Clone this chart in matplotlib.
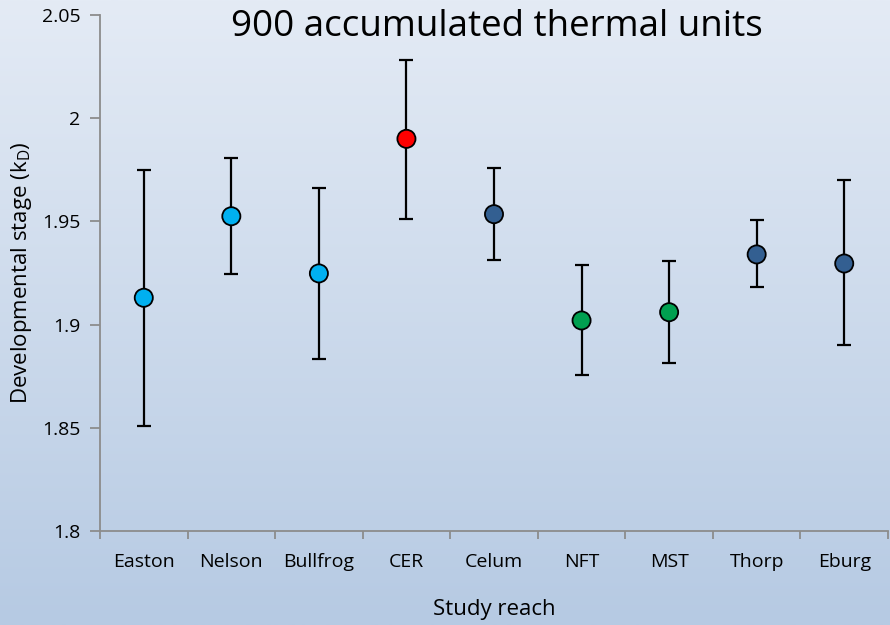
import numpy as np
import matplotlib.pyplot as plt

# study reaches and developmental stage (kD) at 900 accumulated thermal units
reaches = ["Easton", "Nelson", "Bullfrog", "CER", "Celum", "NFT", "MST", "Thorp", "Eburg"]
means = [1.913, 1.9525, 1.9248, 1.990, 1.9535, 1.902, 1.906, 1.934, 1.9296]
upper = [1.975, 1.9808, 1.966, 2.028, 1.9757, 1.9288, 1.9309, 1.9505, 1.970]
lower = [1.8507, 1.9244, 1.8831, 1.9511, 1.9312, 1.8756, 1.8816, 1.9181, 1.8902]
colors = ["#00b0f0", "#00b0f0", "#00b0f0", "#ff0000", "#335f91",
          "#00a050", "#00a050", "#335f91", "#335f91"]

plt.rcParams['font.family'] = ['Open Sans', 'DejaVu Sans']
plt.rcParams['mathtext.fontset'] = 'custom'
plt.rcParams['mathtext.rm'] = 'Open Sans'

fig = plt.figure(figsize=(8.9, 6.25), dpi=100)

# gradient background over the whole figure
bg = fig.add_axes([0, 0, 1, 1], zorder=-1)
top = np.array([0xe4, 0xeb, 0xf5]) / 255
bot = np.array([0xb6, 0xca, 0xe3]) / 255
t = np.linspace(0, 1, 256)[:, None]
grad = (top * (1 - t) + bot * t)[:, None, :]
bg.imshow(grad, aspect='auto', extent=[0, 1, 0, 1])
bg.axis('off')

ax = fig.add_axes([100 / 890, 94 / 625, 788 / 890, 516 / 625])
ax.set_facecolor('none')

x = np.arange(len(reaches))
m = np.array(means)
yerr = [m - np.array(lower), np.array(upper) - m]
ax.errorbar(x, m, yerr=yerr, fmt='none', ecolor='black', elinewidth=1.6,
            capsize=5, capthick=1.6, zorder=2)
ax.scatter(x, m, s=170, c=colors, edgecolors='black', linewidths=1.3, zorder=3)

ax.set_xlim(-0.5, len(reaches) - 0.5)
ax.set_ylim(1.8, 2.05)
ax.set_yticks([1.8, 1.85, 1.9, 1.95, 2.0, 2.05])
ax.set_yticklabels(["1.8", "1.85", "1.9", "1.95", "2", "2.05"])
ax.set_xticks(x)
ax.set_xticklabels(reaches)
ax.set_xticks(np.arange(-0.5, len(reaches)), minor=True)
ax.tick_params(axis='x', which='major', length=0, pad=16, labelsize=14)
ax.tick_params(axis='x', which='minor', length=6, width=1.3, color='#8c8c8c')
ax.tick_params(axis='y', length=7, width=1.3, color='#8c8c8c', pad=7, labelsize=14)

for s in ['top', 'right']:
    ax.spines[s].set_visible(False)
for s in ['left', 'bottom']:
    ax.spines[s].set_color('#8c8c8c')
    ax.spines[s].set_linewidth(1.3)

ax.set_xlabel("Study reach", fontsize=16, labelpad=20)
ax.set_ylabel(r"Developmental stage (k$_\mathrm{D}$)", fontsize=16, labelpad=6)

fig.text(497 / 890, 1 - 27 / 625, "900 accumulated thermal units",
         fontsize=26.5, ha='center', va='center')

fig.savefig("out.png", dpi=100)
